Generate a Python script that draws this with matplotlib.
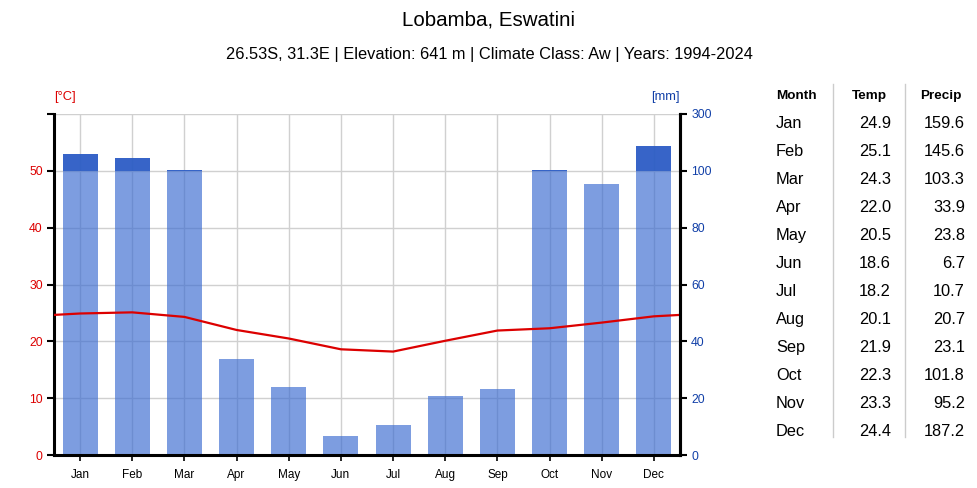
"""Climate chart for Lobamba, Eswatini (Walter-Lieth style)."""
import matplotlib

matplotlib.use("Agg")
import matplotlib.pyplot as plt  # noqa: E402
import numpy as np  # noqa: E402

plt.rcParams["font.family"] = ["Liberation Sans", "DejaVu Sans"]

months = ["Jan", "Feb", "Mar", "Apr", "May", "Jun",
          "Jul", "Aug", "Sep", "Oct", "Nov", "Dec"]
temp = [24.9, 25.1, 24.3, 22.0, 20.5, 18.6, 18.2, 20.1, 21.9, 22.3, 23.3, 24.4]
precip = [159.6, 145.6, 103.3, 33.9, 23.8, 6.7, 10.7, 20.7, 23.1, 101.8, 95.2, 187.2]

temp_ticks = [0, 10, 20, 30, 40, 50, 60]
precip_ticks = ["0", "20", "40", "60", "80", "100", "300"]

title = "Lobamba, Eswatini"
subtitle = "26.53S, 31.3E | Elevation: 641 m | Climate Class: Aw | Years: 1994-2024"

RED = "#dc0000"
BLUE = "#1240a8"
LIGHT = "#3a6bd0"
DARK = "#2c5cc5"


def mm_to_scale(p):
    # 0-100 mm -> 0-50, 100-300 mm compressed into 50-60
    p = np.asarray(p, dtype=float)
    return np.where(p <= 100, p / 2.0, 50 + (p - 100) / 20.0)


fig = plt.figure(figsize=(9.78, 4.88), dpi=100)
ax = fig.add_axes([0.0552, 0.0676, 0.6401, 0.6988])
x = np.arange(len(months))

p_scaled = mm_to_scale(precip)
low = np.minimum(p_scaled, 50)
high = np.clip(p_scaled - 50, 0, None)
ax.bar(x, low, width=0.67, color=LIGHT, alpha=0.66, zorder=2, linewidth=0)
ax.bar(x, high, bottom=low, width=0.67, color=DARK, alpha=0.95, zorder=2, linewidth=0)

# temperature line, wrapped to the plot edges
edge = (temp[0] + temp[-1]) / 2
tx = np.concatenate([[-0.5], x, [11.5]])
ty = np.concatenate([[edge], temp, [edge]])
ax.plot(tx, ty, color=RED, linewidth=1.6, zorder=3)

ax.set_xlim(-0.5, 11.5)
ax.set_ylim(0, 60)
ax.set_xticks(x)
ax.set_xticklabels(months, fontsize=8.5)
ax.set_yticks(temp_ticks)
ax.set_yticklabels([str(t) if t < 60 else "" for t in temp_ticks], fontsize=8.8, color=RED)
ax.tick_params(axis="y", length=5, width=1.5, pad=3)
ax.tick_params(axis="x", length=4, width=1.2, pad=6)
ax.grid(True, color="#d0d0d0", linewidth=1.0, zorder=0)
ax.set_axisbelow(True)
for side in ["left", "right", "bottom"]:
    ax.spines[side].set_linewidth(2.2)
ax.spines["top"].set_visible(False)

ax2 = ax.twinx()
ax2.set_ylim(0, 60)
ax2.set_yticks(temp_ticks)
ax2.set_yticklabels(precip_ticks, fontsize=8.8, color=BLUE)
ax2.tick_params(axis="y", length=5, width=1.5, pad=3)
ax2.spines["right"].set_linewidth(2.2)
for side in ["left", "top", "bottom"]:
    ax2.spines[side].set_visible(False)

fig.text(0.0554, 0.801, "[°C]", color=RED, fontsize=9.3, ha="left", va="center")
fig.text(0.6953, 0.801, "[mm]", color=BLUE, fontsize=9.3, ha="right", va="center")

fig.text(0.5, 0.959, title, fontsize=14.8, ha="center", va="center")
fig.text(0.5, 0.889, subtitle, fontsize=11.8, ha="center", va="center")

# data table on the right
row0 = 1 - 96 / 488
dy = 27.95 / 488
fig.text(776 / 978, row0, "Month", fontsize=9.7, fontweight="bold", ha="left", va="center")
fig.text(869 / 978, row0, "Temp", fontsize=9.7, fontweight="bold", ha="center", va="center")
fig.text(941 / 978, row0, "Precip", fontsize=9.7, fontweight="bold", ha="center", va="center")
for i, m in enumerate(months):
    y = row0 - (i + 1) * dy
    fig.text(776 / 978, y, m, fontsize=11.8, ha="left", va="center")
    fig.text(891 / 978, y, f"{temp[i]:.1f}", fontsize=11.8, ha="right", va="center")
    fig.text(965 / 978, y, f"{precip[i]:.1f}", fontsize=11.8, ha="right", va="center")
for xs in [833 / 978, 905 / 978]:
    fig.add_artist(plt.Line2D([xs, xs], [1 - 84 / 488, 1 - 437 / 488],
                              color="#cccccc", linewidth=1.0))

fig.savefig("out.png", dpi=100)
plt.close(fig)
